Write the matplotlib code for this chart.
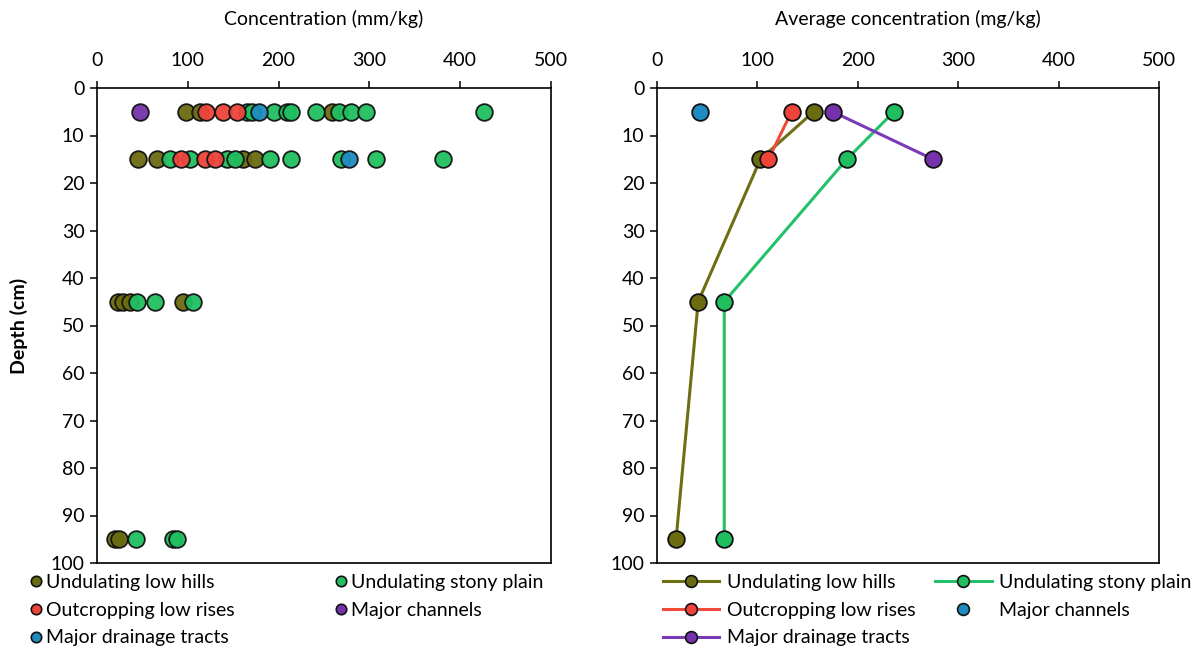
import matplotlib
matplotlib.use("Agg")
import matplotlib.pyplot as plt
from matplotlib.lines import Line2D

plt.rcParams['font.family'] = ['Lato', 'DejaVu Sans']
FS = 14

# ---- Individual sample concentrations (left panel) ----
hills_depth = [5, 5, 5, 15, 15, 15, 15, 45, 45, 45, 45, 95, 95]
hills_conc = [97.6, 113.5, 258.4, 44.7, 65.7, 161, 174, 23, 29, 36, 95, 20, 24]

stony_depth = [5, 5, 5, 5, 5, 5, 5, 5, 5, 5,
               15, 15, 15, 15, 15, 15, 15, 15, 15,
               45, 45, 45, 95, 95, 95]
stony_conc = [165, 171, 195, 209, 214, 241, 266, 280, 296, 426,
              80, 102, 143, 152, 190, 214, 269, 307, 381,
              44, 64, 106, 43, 84, 88]

rises_depth = [5, 5, 5, 15, 15, 15]
rises_conc = [120, 139, 154, 93, 119, 130]

channels_depth = [5]
channels_conc = [47]

drainage_depth = [5, 15]
drainage_conc = [178, 278]

# ---- Average concentrations by depth (right panel) ----
hills_avg_depth = [5, 15, 45, 95]
hills_avg = [156, 103, 41, 19]
stony_avg_depth = [5, 15, 45, 95]
stony_avg = [236, 189, 67, 67]
rises_avg_depth = [5, 15]
rises_avg = [134, 111]
channels_avg_depth = [5]
channels_avg = [43]
drainage_avg_depth = [5, 15]
drainage_avg = [175, 275]

labels = ["Undulating low hills", "Undulating stony plain", "Outcropping low rises",
          "Major channels", "Major drainage tracts"]

c_olive = "#6b6b10"
c_green = "#1fbf60"
c_red = "#f0443a"
c_purple = "#7632ad"
c_blue = "#1e8cc0"
l_olive = "#6e6e12"
l_green = "#25c06a"
l_red = "#ef4a3c"
l_purple = "#7a3ab8"

fig = plt.figure(figsize=(11.95, 6.53), dpi=100)
ax1 = fig.add_axes([97 / 1195, 1 - 563 / 653, 454 / 1195, 475 / 653])
ax2 = fig.add_axes([657 / 1195, 1 - 563 / 653, 502 / 1195, 475 / 653])

MS = 12
MEW = 1.3


def style_axes(ax, xlabel):
    ax.set_xlim(0, 500)
    ax.set_ylim(100, 0)
    ax.set_xticks(range(0, 501, 100))
    ax.set_yticks(range(0, 101, 10))
    ax.xaxis.tick_top()
    ax.xaxis.set_label_position('top')
    ax.set_xlabel(xlabel, fontsize=FS, labelpad=19)
    ax.tick_params(axis='both', direction='out', length=5, width=1.1,
                   labelsize=FS, pad=4, colors='black')
    ax.tick_params(axis='x', pad=9)
    for s in ax.spines.values():
        s.set_linewidth(1.2)
        s.set_color('black')


# Left panel: every sample
series_left = [
    (hills_conc, hills_depth, c_olive),
    (stony_conc, stony_depth, c_green),
    (rises_conc, rises_depth, c_red),
    (channels_conc, channels_depth, c_purple),
    (drainage_conc, drainage_depth, c_blue),
]
handles_left = []
for (x, y, c), lab in zip(series_left, labels):
    ax1.plot(x, y, linestyle='none', marker='o', ms=MS, mfc=c, mec='#111111',
             mew=MEW, alpha=0.95, clip_on=False)
    handles_left.append(Line2D([], [], linestyle='none', marker='o', ms=7.5,
                               mfc=c, mec='#111111', mew=1.2, label=lab))

style_axes(ax1, "Concentration (mm/kg)")
ax1.set_ylabel("Depth (cm)", fontsize=FS, fontweight='bold', labelpad=16)

# Right panel: averages by depth
series_right = [
    (hills_avg, hills_avg_depth, c_olive, l_olive, True),
    (stony_avg, stony_avg_depth, c_green, l_green, True),
    (rises_avg, rises_avg_depth, c_red, l_red, True),
    (channels_avg, channels_avg_depth, c_blue, None, False),
    (drainage_avg, drainage_avg_depth, c_purple, l_purple, True),
]
handles_right = []
for (x, y, c, lc, line), lab in zip(series_right, labels):
    if line:
        ax2.plot(x, y, color=lc, lw=2.2, marker='o', ms=MS, mfc=c, mec='#111111',
                 mew=MEW, clip_on=False)
        handles_right.append(Line2D([], [], color=lc, lw=2.2, marker='o', ms=8.5,
                                    mfc=c, mec='#111111', mew=1.2, label=lab))
    else:
        ax2.plot(x, y, linestyle='none', marker='o', ms=MS, mfc=c, mec='#111111',
                 mew=MEW, clip_on=False)
        handles_right.append(Line2D([], [], linestyle='none', marker='o', ms=8.5,
                                    mfc=c, mec='#111111', mew=1.2, label=lab))

style_axes(ax2, "Average concentration (mg/kg)")

# Legends (column-major order so rows read left-to-right)
order = [0, 2, 4, 1, 3]
fig.legend([handles_left[i] for i in order], [labels[i] for i in order],
           ncol=2, loc='upper left', bbox_to_anchor=(30 / 1195, 1 - 574 / 653),
           frameon=False, fontsize=FS, handlelength=0.6, handletextpad=0.2,
           columnspacing=5.2, labelspacing=0.55, borderaxespad=0, borderpad=0)

fig.legend([handles_right[i] for i in order], [labels[i] for i in order],
           ncol=2, loc='upper left', bbox_to_anchor=(663 / 1195, 1 - 574 / 653),
           frameon=False, fontsize=FS, handlelength=2.9, handletextpad=0.4,
           columnspacing=1.0, labelspacing=0.55, borderaxespad=0, borderpad=0)

fig.savefig("out.png", dpi=100)
